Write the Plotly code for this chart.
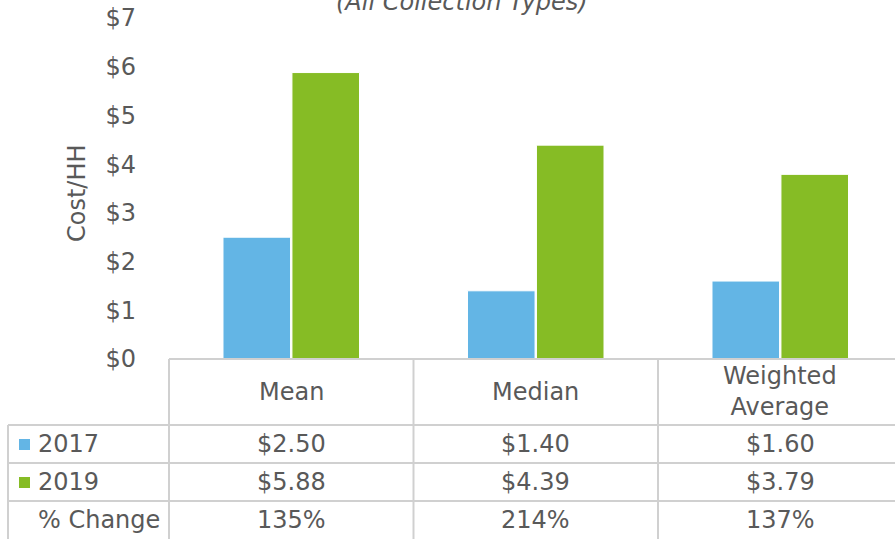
import plotly.graph_objects as go

categories = ["Mean", "Median", "Weighted<br>Average"]
series_names = ["2017", "2019"]
values_2017 = [2.50, 1.40, 1.60]
values_2019 = [5.88, 4.39, 3.79]
pct_change = ["135%", "214%", "137%"]
colors = ["#63B5E5", "#86BC25"]
tick_vals = [0, 1, 2, 3, 4, 5, 6, 7]
tick_text = ["$0", "$1", "$2", "$3", "$4", "$5", "$6", "$7"]

W, H = 895, 539
L, T, B = 169, 18, 180
plot_w = W - L
plot_h = H - T - B
col_w = 244.5
FONT = "DejaVu Sans"
TXT = "#595959"
GRID = "#D0D0D0"
FS = 24


def px(x):
    return (x - L) / plot_w


def py(y):
    return (H - B - y) / plot_h


fig = go.Figure()
for name, vals, c in zip(series_names, [values_2017, values_2019], colors):
    fig.add_trace(go.Bar(
        x=list(range(len(categories))), y=vals, name=name,
        marker=dict(color=c, line=dict(color="white", width=1)),
        showlegend=False, hoverinfo="skip",
    ))

x_max = -0.5 + plot_w / col_w

fig.update_layout(
    width=W, height=H,
    margin=dict(l=L, r=0, t=T, b=B, pad=0),
    paper_bgcolor="white", plot_bgcolor="white",
    barmode="group", bargap=0.436, bargroupgap=0.02,
    font=dict(family=FONT, size=FS, color=TXT),
    xaxis=dict(range=[-0.5, x_max], showticklabels=False, showgrid=False,
               zeroline=False, showline=False, ticks=""),
    yaxis=dict(range=[0, 7], tickvals=tick_vals, ticktext=tick_text,
               showgrid=False, zeroline=False, showline=False, ticks="",
               ticklabelstandoff=32, tickfont=dict(size=FS, color=TXT)),
)

shapes = []
line = dict(color=GRID, width=2)
shapes.append(dict(type="line", xref="paper", yref="paper",
                   x0=px(L), x1=px(W + 10), y0=py(359), y1=py(359), line=line))
for yy in [425, 463, 501]:
    shapes.append(dict(type="line", xref="paper", yref="paper",
                       x0=px(8), x1=px(W + 10), y0=py(yy), y1=py(yy), line=line))
for xx in [L, L + col_w, L + 2 * col_w]:
    shapes.append(dict(type="line", xref="paper", yref="paper",
                       x0=px(xx), x1=px(xx), y0=py(359), y1=py(H + 10), line=line))
shapes.append(dict(type="line", xref="paper", yref="paper",
                   x0=px(8), x1=px(8), y0=py(425), y1=py(H + 10), line=line))
for c, yc in zip(colors, [444, 482]):
    shapes.append(dict(type="rect", xref="paper", yref="paper",
                       x0=px(19), x1=px(30), y0=py(yc - 5), y1=py(yc + 6),
                       fillcolor=c, line=dict(width=0)))
fig.update_layout(shapes=shapes)

ann = []
for i, cat in enumerate(categories):
    ann.append(dict(x=i, xref="x", y=py(392), yref="paper", text=cat,
                    showarrow=False, xanchor="center", yanchor="middle",
                    font=dict(size=FS, color=TXT)))
row_y = [444, 482, 520]
row_labels = series_names + ["% Change"]
row_vals = [["$%.2f" % v for v in values_2017],
            ["$%.2f" % v for v in values_2019],
            pct_change]
for lab, vals, yy in zip(row_labels, row_vals, row_y):
    ann.append(dict(x=px(36), xref="paper", y=py(yy), yref="paper", text=lab,
                    showarrow=False, xanchor="left", yanchor="middle",
                    font=dict(size=FS, color=TXT)))
    for i, v in enumerate(vals):
        ann.append(dict(x=i, xref="x", y=py(yy), yref="paper", text=v,
                        showarrow=False, xanchor="center", yanchor="middle",
                        font=dict(size=FS, color=TXT)))
ann.append(dict(x=px(77), xref="paper", y=py(193), yref="paper", text="Cost/HH",
                textangle=-90, showarrow=False, xanchor="center", yanchor="middle",
                font=dict(size=FS, color=TXT)))
ann.append(dict(x=px(462), xref="paper", y=py(2), yref="paper",
                text="<i>(All Collection Types)</i>",
                showarrow=False, xanchor="center", yanchor="middle",
                font=dict(size=FS, color=TXT)))
fig.update_layout(annotations=ann)

fig.write_html(
    "out.html",
    config={"displayModeBar": False},
    post_script="document.body.style.margin='0';document.body.style.overflow='hidden';",
)
